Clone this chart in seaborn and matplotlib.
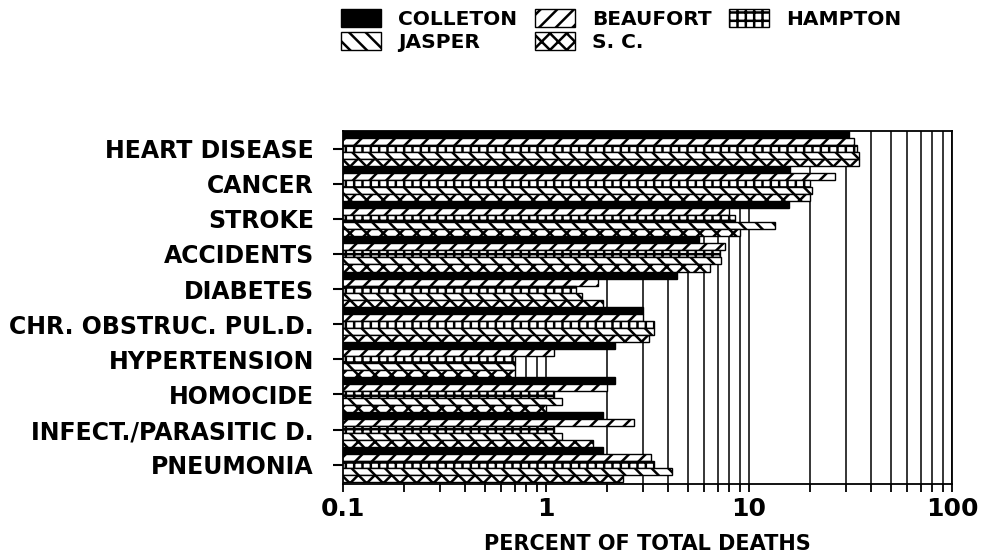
#!/usr/bin/env python3
"""
Leading causes of death: percent of total deaths by county (log scale).
"""
import numpy as np
import pandas as pd
import matplotlib
matplotlib.use("Agg")
import matplotlib.pyplot as plt
import seaborn as sns
from matplotlib.patches import Patch
from matplotlib.ticker import LogLocator, FixedLocator, NullFormatter

causes = [
    "HEART DISEASE",
    "CANCER",
    "STROKE",
    "ACCIDENTS",
    "DIABETES",
    "CHR. OBSTRUC. PUL.D.",
    "HYPERTENSION",
    "HOMOCIDE",
    "INFECT./PARASITIC D.",
    "PNEUMONIA",
]
counties = ["COLLETON", "BEAUFORT", "HAMPTON", "JASPER", "S. C."]

# percent of total deaths
colleton = [31.0, 15.9, 15.7, 5.7, 4.4, 3.0, 2.2, 2.2, 1.9, 1.9]
beaufort = [33.0, 26.5, 8.0, 7.6, 1.8, 3.0, 1.1, 2.0, 2.7, 3.3]
hampton = [34.0, 20.0, 8.5, 7.2, 1.4, 3.4, 0.7, 1.1, 1.1, 3.4]
jasper = [35.0, 20.5, 13.5, 7.3, 1.5, 3.4, 0.7, 1.2, 1.2, 4.2]
sc = [35.0, 20.0, 9.0, 6.4, 1.9, 3.2, 0.7, 1.0, 1.7, 2.4]

x_ticks = [0.1, 1, 10, 100]
x_ticklabels = ["0.1", "1", "10", "100"]

hatches = ["", "//", "++", "\\\\", "xx"]
faces = ["black", "white", "white", "white", "white"]

sns.set_style("white")
plt.rcParams["font.family"] = ["DejaVu Sans"]
plt.rcParams["font.weight"] = "bold"
plt.rcParams["text.color"] = "black"
plt.rcParams["axes.labelcolor"] = "black"
plt.rcParams["xtick.color"] = "black"
plt.rcParams["ytick.color"] = "black"
plt.rcParams["hatch.linewidth"] = 1.8
plt.rcParams["hatch.color"] = "black"

df = pd.DataFrame({
    "cause": np.tile(causes, len(counties)),
    "county": np.repeat(counties, len(causes)),
    "pct": colleton + beaufort + hampton + jasper + sc,
})

fig = plt.figure(figsize=(9.81, 5.57), dpi=100)
ax = fig.add_axes([0.3496, 0.131, 0.6208, 0.6338])

sns.barplot(
    data=df, x="pct", y="cause", hue="county", order=causes, hue_order=counties,
    orient="h", width=1.0, gap=0, errorbar=None, palette=["white"] * 5,
    edgecolor="black", linewidth=1.0, legend=False, ax=ax,
)

for cont, fc, h in zip(ax.containers, faces, hatches):
    for bar in cont:
        bar.set_facecolor(fc)
        bar.set_hatch(h)
        bar.set_zorder(2)

ax.set_xscale("log")
ax.set_xlim(0.1, 100)
ax.set_ylim(9.55, -0.5)

ax.xaxis.set_major_locator(FixedLocator(x_ticks))
ax.set_xticklabels(x_ticklabels, fontsize=18, fontweight="bold")
ax.xaxis.set_minor_locator(LogLocator(base=10, subs=np.arange(2, 10)))
ax.xaxis.set_minor_formatter(NullFormatter())
ax.tick_params(axis="x", which="both", direction="out", length=6, width=1.3,
               bottom=True, color="black", labelcolor="black")
ax.tick_params(axis="y", direction="out", length=7, width=1.5, left=True,
               pad=14, color="black", labelcolor="black")
ax.set_yticklabels(causes, fontsize=17, fontweight="bold")

ax.grid(True, which="both", axis="x", color="black", linewidth=1.1)
ax.grid(False, axis="y")
ax.set_axisbelow(True)

ax.set_xlabel("PERCENT OF TOTAL DEATHS", fontsize=15, fontweight="bold",
              labelpad=9, color="black")
ax.set_ylabel("")

for sp in ax.spines.values():
    sp.set_color("black")
    sp.set_linewidth(1.3)
    sp.set_visible(True)

# legend laid out row-wise in three columns
handles = [Patch(facecolor=fc, edgecolor="black", hatch=h, label=c)
           for c, fc, h in zip(counties, faces, hatches)]
order = [0, 3, 1, 4, 2]
fig.legend(
    [handles[i] for i in order], [counties[i] for i in order],
    ncol=3, loc="upper left", bbox_to_anchor=(341 / 981, 1 - 9 / 557),
    frameon=False, prop={"size": 14.5, "weight": "bold"},
    handlelength=2.0, handleheight=1.0, handletextpad=0.85,
    columnspacing=0.85, labelspacing=0.15, borderpad=0, borderaxespad=0,
)

fig.savefig("out.png", dpi=100)
plt.close(fig)
